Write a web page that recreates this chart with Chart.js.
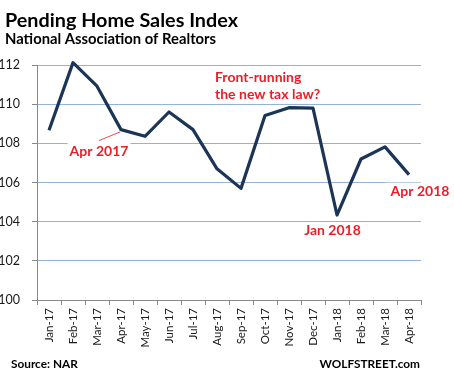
<!DOCTYPE html>
<html><head><meta charset="utf-8">
<script src="https://cdn.jsdelivr.net/npm/chart.js@4/dist/chart.umd.min.js"></script>
<style>html,body{margin:0;padding:0;background:#fff}canvas{display:block}</style>
</head><body>
<canvas id="c" width="454" height="382"></canvas>
<script>
const categories = ['Jan-17','Feb-17','Mar-17','Apr-17','May-17','Jun-17','Jul-17','Aug-17','Sep-17','Oct-17','Nov-17','Dec-17','Jan-18','Feb-18','Mar-18','Apr-18'];
const pendingSales = [108.67,112.12,110.92,108.7,108.36,109.6,108.7,106.7,105.7,109.42,109.82,109.8,104.34,107.2,107.82,106.4];
const yTicks = [100,102,104,106,108,110,112];
const titleText = 'Pending Home Sales Index';
const subtitleText = 'National Association of Realtors';
const sourceText = 'Source: NAR';
const brandText = 'WOLFSTREET.com';
const noteLines = ['Front-running','the new tax law?'];

const RED = '#ee1c25';
const FONT = 'Lato, "Open Sans", sans-serif';

const labels = [
  {text:'Apr 2017', idx:3, dx:-22, dy:26, padL:2, padR:2, conn:[-22,11,-1,2.3]},
  {text:'Jan 2018', idx:12, dx:-4.5, dy:20, padL:2, padR:4},
  {text:'Apr 2018', idx:15, dx:11, dy:21, padL:5, padR:2}
];

const annot = {
  id:'annot',
  beforeDatasetsDraw(chart){
    const {ctx, scales:{x,y}} = chart;
    ctx.save();
    ctx.font = 'bold 14px ' + FONT;
    ctx.textAlign = 'center';
    ctx.textBaseline = 'alphabetic';
    labels.forEach(l=>{
      const px = x.getPixelForValue(l.idx), py = y.getPixelForValue(pendingSales[l.idx]);
      const cx = px + l.dx, by = py + l.dy;
      const w = ctx.measureText(l.text).width;
      ctx.fillStyle = '#fff';
      ctx.fillRect(cx - w/2 - l.padL, by - 13, w + l.padL + l.padR, 17);
      ctx.fillStyle = RED;
      ctx.fillText(l.text, cx, by);
      if (l.conn){
        ctx.strokeStyle = RED; ctx.lineWidth = 0.8;
        ctx.beginPath();
        ctx.moveTo(px + l.conn[0], py + l.conn[1]);
        ctx.lineTo(px + l.conn[2], py + l.conn[3]);
        ctx.stroke();
      }
    });
    const ox = x.getPixelForValue(9), oy = y.getPixelForValue(pendingSales[9]);
    ctx.textAlign = 'left';
    ctx.fillStyle = RED;
    ctx.fillText(noteLines[0], ox - 50, oy - 34);
    ctx.fillText(noteLines[1], ox - 50, oy - 16.5);
    ctx.restore();
  },
  afterDraw(chart){
    const ctx = chart.ctx;
    ctx.save();
    ctx.fillStyle = '#000';
    ctx.textBaseline = 'alphabetic';
    ctx.textAlign = 'left';
    ctx.font = 'bold 19.8px ' + FONT;
    ctx.fillText(titleText, 5, 26.5);
    ctx.font = 'bold 14.8px ' + FONT;
    ctx.fillText(subtitleText, 5, 43.5);
    ctx.font = 'bold 11.8px ' + FONT;
    ctx.fillText(sourceText, 11, 368);
    ctx.textAlign = 'right';
    ctx.fillText(brandText, 420, 368);
    ctx.restore();
  }
};

new Chart(document.getElementById('c'), {
  type:'line',
  data:{labels:categories, datasets:[{
    data:pendingSales, borderColor:'#1c3556', borderWidth:3.2, pointRadius:0,
    tension:0, clip:false, borderJoinStyle:'round', borderCapStyle:'butt'
  }]},
  options:{
    responsive:false, animation:false,
    layout:{padding:{top:65,right:33,left:0,bottom:0}},
    plugins:{legend:{display:false}, tooltip:{enabled:false}, title:{display:false}},
    scales:{
      x:{
        offset:true,
        grid:{display:true, drawOnChartArea:false, offset:true, tickLength:5, tickColor:'#888', lineWidth:1},
        border:{color:'#888', width:1},
        ticks:{minRotation:90, maxRotation:90, padding:3, color:'#1a1a1a', font:{family:FONT, size:11.5}, autoSkip:false},
        afterFit(s){ s.height = 82; }
      },
      y:{
        min:100, max:112,
        afterBuildTicks(s){ s.ticks = yTicks.map(v=>({value:v})); },
        grid:{color:'#95b3d7', lineWidth:1, tickLength:5, tickColor:'#888'},
        border:{color:'#888', width:1},
        ticks:{padding:12, color:'#1a1a1a', font:{family:FONT, size:12.5}},
        afterFit(s){ s.width = 37; }
      }
    }
  },
  plugins:[annot]
});
</script>
</body></html>
